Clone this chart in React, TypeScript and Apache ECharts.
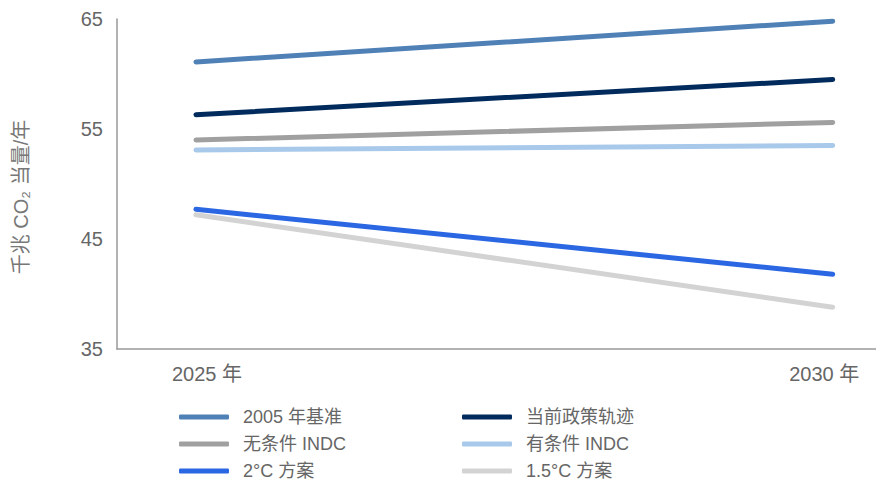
import React, { useEffect, useRef } from "react";
import * as echarts from "echarts";

const years = [2025, 2030];
const seriesNames = ["2005 年基准", "当前政策轨迹", "无条件 INDC", "有条件 INDC", "2°C 方案", "1.5°C 方案"];
const baseline2005 = [61.1, 64.8];
const currentPolicy = [56.3, 59.5];
const unconditionalINDC = [54.0, 55.6];
const conditionalINDC = [53.1, 53.5];
const scenario2C = [47.7, 41.8];
const scenario15C = [47.2, 38.8];
const yTicks = [35, 45, 55, 65];
const colors = ["#4f81b7", "#002b5c", "#a0a0a0", "#a9c9eb", "#2b67e2", "#d3d3d3"];

const FONT = "'Liberation Sans', 'Noto Sans CJK SC', sans-serif";

export default function App() {
  const ref = useRef<HTMLDivElement>(null);
  useEffect(() => {
    if (!ref.current) return;
    const chart = echarts.init(ref.current, null, { renderer: "svg" });
    const values = [baseline2005, currentPolicy, unconditionalINDC, conditionalINDC, scenario2C, scenario15C];
    const series = seriesNames.map((name, i) => ({
      name,
      type: "line",
      data: years.map((y, j) => [y, values[i][j]]),
      symbol: "none",
      lineStyle: { width: 5, color: colors[i], cap: "round" },
      itemStyle: { color: colors[i] },
    }));
    const legendBase = {
      orient: "vertical",
      top: 407,
      padding: 0,
      itemWidth: 50,
      itemHeight: 5,
      itemGap: 7,
      icon: "roundRect",
      textStyle: { fontSize: 18, color: "#666", fontFamily: FONT, lineHeight: 20, padding: [0, 0, 0, 9] },
    };
    chart.setOption({
      animation: false,
      textStyle: { fontFamily: FONT },
      grid: { left: 117, right: 0, top: 19, bottom: 133, containLabel: false },
      legend: [
        { ...legendBase, left: 179, data: [seriesNames[0], seriesNames[2], seriesNames[4]] },
        { ...legendBase, left: 462, data: [seriesNames[1], seriesNames[3], seriesNames[5]] },
      ],
      xAxis: {
        type: "value",
        min: 2024.38,
        max: 2030.34,
        splitLine: { show: false },
        axisTick: { show: false },
        axisLine: { show: true, onZero: false, lineStyle: { color: "#999", width: 1.5 } },
        axisLabel: {
          customValues: years,
          margin: 15,
          fontSize: 20,
          color: "#666",
          fontFamily: FONT,
          formatter: (v: number) => (v === years[0] ? `{a|${v} 年}` : `{b|${v} 年}`),
          rich: {
            a: { fontSize: 20, color: "#666", fontFamily: FONT, padding: [0, 0, 0, 22] },
            b: { fontSize: 20, color: "#666", fontFamily: FONT, padding: [0, 17, 0, 0] },
          },
        },
      },
      yAxis: {
        type: "value",
        min: yTicks[0],
        max: yTicks[yTicks.length - 1],
        interval: 10,
        splitLine: { show: false },
        axisTick: { show: false },
        axisLine: { show: true, lineStyle: { color: "#999", width: 1.5 } },
        axisLabel: { fontSize: 20, color: "#666", margin: 14, fontFamily: FONT },
        name: "千兆 CO₂ 当量/年",
        nameLocation: "middle",
        nameGap: 86,
        nameTextStyle: { fontSize: 20, color: "#777", fontFamily: FONT, padding: [0, 26, 0, 0] },
      },
      series,
    });
    return () => chart.dispose();
  }, []);
  return <div ref={ref} style={{ width: 876, height: 482, position: "absolute", left: 0, top: 0 }} />;
}
